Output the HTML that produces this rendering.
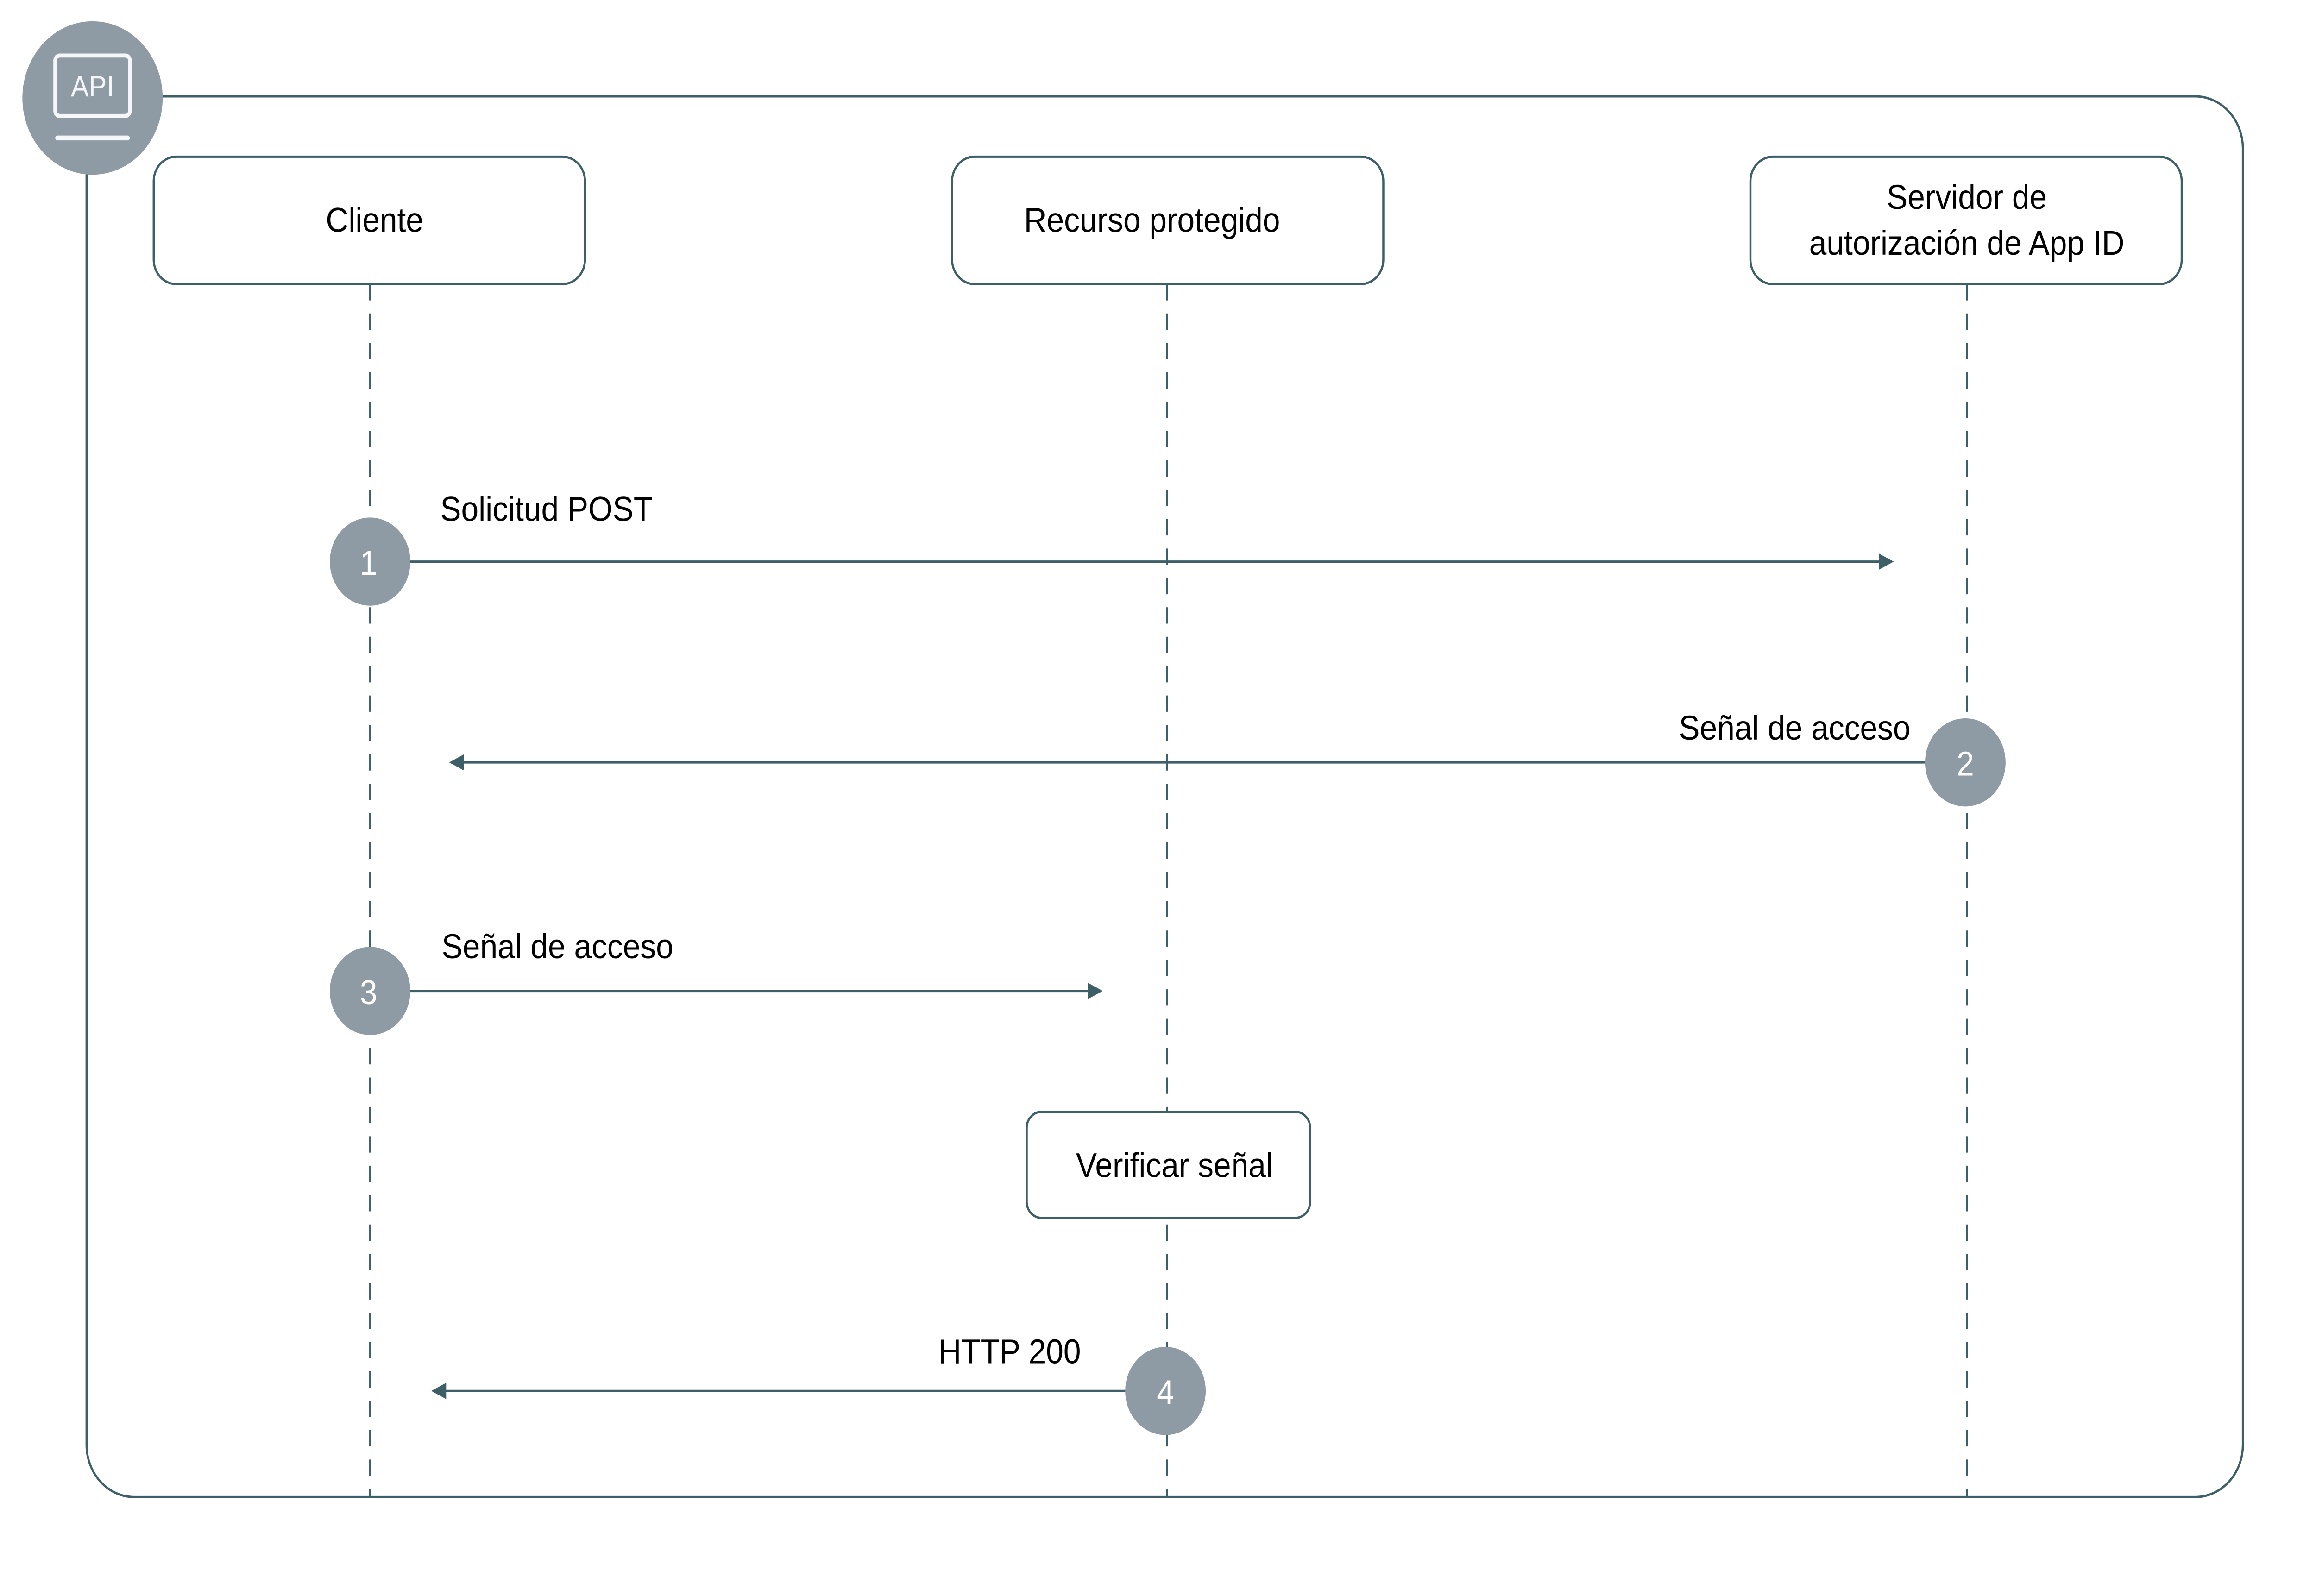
<!DOCTYPE html>
<html><head><meta charset="utf-8"><style>html,body{margin:0;padding:0;background:#fff;overflow:hidden;width:100%;height:100%}svg{display:block;position:fixed;left:0;top:0;width:100vw;height:100vh}</style></head>
<body>
<svg viewBox="0 0 1552 977.6" preserveAspectRatio="none" xmlns="http://www.w3.org/2000/svg" font-family="'Liberation Sans', sans-serif">
<defs><marker id="a" markerWidth="10" markerHeight="10" refX="9" refY="5" orient="auto" markerUnits="userSpaceOnUse"><path d="M0,0 L10,5 L0,10 z" fill="#3d5f68"/></marker></defs>
<rect x="58" y="59" width="1445" height="858" rx="32" fill="none" stroke="#3d5f68" stroke-width="1.4"/>
<circle cx="62" cy="60" r="47" fill="#8e9ba5"/>
<rect x="37" y="34" width="50" height="37" rx="3" fill="none" stroke="#f4f6f9" stroke-width="2.5"/>
<text x="62" y="59" font-size="18" fill="#f4f6f9" text-anchor="middle">API</text>
<rect x="37" y="83" width="50" height="3" rx="1.5" fill="#f4f6f9"/>
<g stroke="#3d5f68" stroke-width="1.2" stroke-dasharray="10,8" fill="none">
<line x1="248" y1="174" x2="248" y2="917"/><line x1="782" y1="174" x2="782" y2="917"/><line x1="1318" y1="174" x2="1318" y2="917"/>
</g>
<g fill="#fff" stroke="#3d5f68" stroke-width="1.4">
<rect x="103" y="96" width="289" height="78" rx="15"/><rect x="638" y="96" width="289" height="78" rx="15"/><rect x="1173" y="96" width="289" height="78" rx="15"/>
<rect x="688" y="681" width="190" height="65" rx="10"/>
</g>
<g font-size="21" fill="#000" text-anchor="middle">
<text x="251" y="142">Cliente</text><text x="772" y="142">Recurso protegido</text>
<text x="1318" y="128">Servidor de</text><text x="1318" y="156">autorización de App ID</text>
<text x="787" y="721">Verificar señal</text>
</g>
<g stroke="#3d5f68" stroke-width="1.4" marker-end="url(#a)">
<line x1="270" y1="344" x2="1268" y2="344"/><line x1="1295" y1="467" x2="302" y2="467"/>
<line x1="270" y1="607" x2="738" y2="607"/><line x1="760" y1="852" x2="290" y2="852"/>
</g>
<g font-size="21" fill="#000">
<text x="295" y="319">Solicitud POST</text><text x="1125" y="453">Señal de acceso</text>
<text x="296" y="587">Señal de acceso</text><text x="629" y="835">HTTP 200</text>
</g>
<g fill="#8e9ba5"><circle cx="248" cy="344" r="27"/><circle cx="1317" cy="467" r="27"/><circle cx="248" cy="607" r="27"/><circle cx="781" cy="852" r="27"/></g>
<g font-size="21" fill="#fff" text-anchor="middle">
<text x="247" y="352">1</text><text x="1317" y="475">2</text><text x="247" y="615">3</text><text x="781" y="860">4</text>
</g>
</svg>
</body></html>
